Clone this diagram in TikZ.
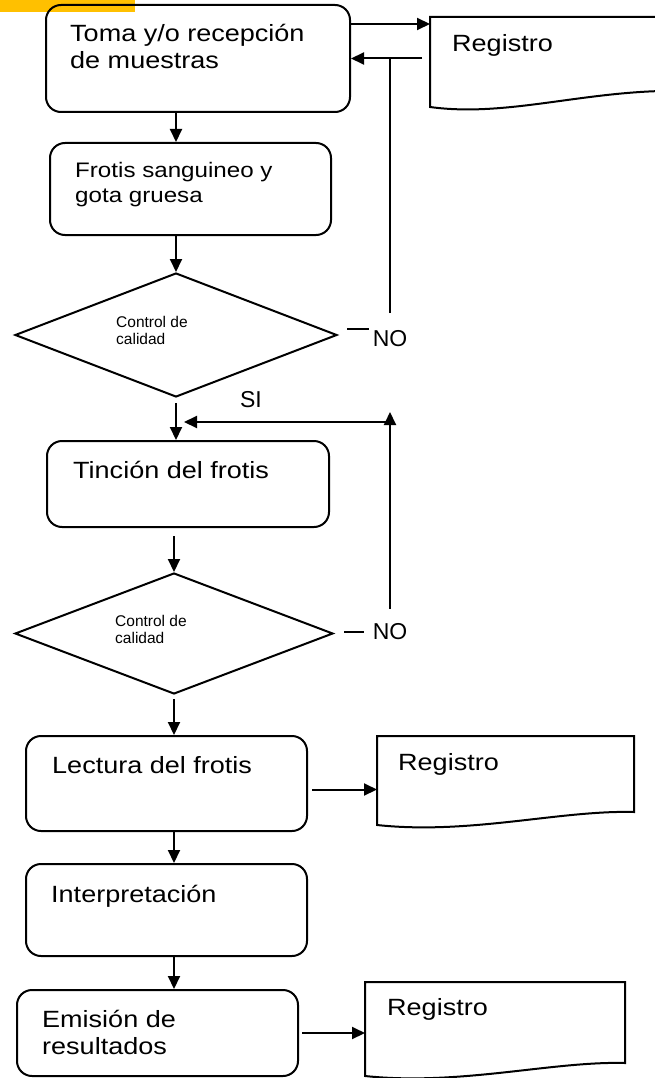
\documentclass[tikz,border=0pt]{standalone}
\usepackage{fontspec}
\setmainfont{Liberation Sans}
\newfontfamily\boxfont[FakeStretch=1.15]{Liberation Sans}
\usetikzlibrary{shapes.geometric,arrows.meta}
\definecolor{tabyellow}{RGB}{255,192,0}

\begin{document}
\begin{tikzpicture}[
			x=1pt, y=-1pt,
			stepbox/.style={draw, line width=2pt, rectangle, rounded corners=15pt, inner sep=0pt},
			checkbox/.style={draw, line width=2pt, diamond, aspect=2.6, inner sep=0pt},
			boxtext/.style={anchor=west, align=left, inner sep=0pt, font={\boxfont\fontsize{23.5}{27}\selectfont}},
			checktext/.style={anchor=west, align=left, inner sep=0pt, font={\fontsize{15.5}{17}\selectfont}},
			doctext/.style={anchor=base west, inner xsep=22pt, inner ysep=0pt, font={\boxfont\fontsize{23.5}{27}\selectfont}},
			answer/.style={inner sep=0pt, font={\fontsize{23}{27}\selectfont}},
			line/.style={draw, line width=2pt},
			arrow/.style={line, -{Triangle[length=13pt,width=12pt]}}
			]
			\useasboundingbox (0,0) rectangle (655,1078);
			\fill[tabyellow] (0,0) rectangle (135,12);
			
			% Toma de muestras
			\node[stepbox, minimum width=304pt, minimum height=107pt] (toma) at (198,58.5) {};
			\node[boxtext] (toma-t) at (70,46.5) {Toma y/o recepción\\de muestras};
			
			% Frotis
			\node[stepbox, minimum width=281pt, minimum height=92pt] (frotis) at (190.5,189) {};
			\node[boxtext, font={\boxfont\fontsize{21}{25}\selectfont}] (frotis-t) at (75,185) {Frotis sanguineo y\\gota gruesa};
			
			% Primer control
			\node[checkbox, minimum width=322pt, minimum height=124pt] (cal1) at (176,335) {};
			\node[checktext] (cal1-t) at (116,330) {Control de\\calidad};
			
			% Tincion
			\node[stepbox, minimum width=282pt, minimum height=86pt] (tincion) at (188,484) {};
			\node[boxtext, anchor=base west] (tincion-t) at (73,478) {Tinción del frotis};
			
			% Segundo control
			\node[checkbox, minimum width=318pt, minimum height=121pt] (cal2) at (174,633.5) {};
			\node[checktext] (cal2-t) at (115,629) {Control de\\calidad};
			
			% Lectura, interpretacion, emision
			\node[stepbox, minimum width=281pt, minimum height=95pt] (lectura) at (166.5,783.5) {};
			\node[boxtext, anchor=base west] (lectura-t) at (52,773) {Lectura del frotis};
			
			\node[stepbox, minimum width=281pt, minimum height=92pt] (interp) at (166.5,910) {};
			\node[boxtext, anchor=base west] (interp-t) at (51,902) {Interpretación};
			
			\node[stepbox, minimum width=281pt, minimum height=86pt] (emision) at (157.5,1033) {};
			\node[boxtext] (emision-t) at (42,1032.5) {Emisión de\\resultados};
			
			% Registros
			\draw[line] (430,17) -- (690,17) -- (690,91) .. controls (590,88) and (510,118) .. (430,107) -- cycle;
			\node[doctext] (reg1) at (430,52) {Registro};
			\draw[line] (377,736) -- (634,736) -- (634,812) .. controls (560,810) and (470,835) .. (377,825) -- cycle;
			\node[doctext, inner xsep=21pt] (reg2) at (377,770) {Registro};
			\draw[line] (365,982) -- (625,982) -- (625,1063) .. controls (552,1061) and (460,1086) .. (365,1076) -- cycle;
			\node[doctext] (reg3) at (365,1015) {Registro};
			
			% Respuestas
			\node[answer] (no1) at (390,338.5) {NO};
			\node[answer] (no2) at (390,632) {NO};
			\node[answer] (si) at (251,399.5) {SI};
			
			% Flujo principal
			\draw[arrow] (toma.south -| cal1.north) -- (frotis.north -| cal1.north);
			\draw[arrow] (frotis.south -| cal1.north) -- (cal1.north);
			\draw[arrow, shorten <=5pt] (cal1.south) -- (tincion.north -| cal1.south);
			\draw[arrow, shorten <=8pt] (tincion.south -| cal2.north) -- (cal2.north);
			\draw[arrow, shorten <=4pt] (cal2.south) -- (lectura.north -| cal2.south);
			\draw[arrow] (lectura.south -| cal2.south) -- (interp.north -| cal2.south);
			\draw[arrow] (interp.south -| cal2.south) -- (emision.north -| cal2.south);
			
			% Registro de la toma y retorno
			\coordinate (t1) at ([yshift=-20pt]toma.north east);
			\draw[arrow] (t1) -- (t1 -| reg1.west);
			\draw[arrow, shorten <=8pt] (toma.east -| reg1.west) -- (toma.east);
			\draw[line] ([xshift=9pt,yshift=6pt]cal1.east) -- ++(22,0);
			\draw[line] ([yshift=17pt]no1.north) -- (no1.north |- toma.east);
			
			% Retorno a la tincion
			\draw[line] ([xshift=10pt,yshift=2pt]cal2.east) -- ++(20,0);
			\coordinate (r2) at (390,422);
			\draw[arrow] ([yshift=15pt]no2.north) -- ([yshift=10pt]r2);
			\draw[arrow, shorten >=8pt] (r2) -- (r2 -| cal1.south);
			
			% Registros de lectura y emision
			\coordinate (l2) at ([yshift=-6pt]lectura.east);
			\draw[arrow, shorten <=4pt] (l2) -- (l2 -| reg2.west);
			\draw[arrow, shorten <=3pt] (emision.east) -- (emision.east -| reg3.west);
			
		\end{tikzpicture}
\end{document}
